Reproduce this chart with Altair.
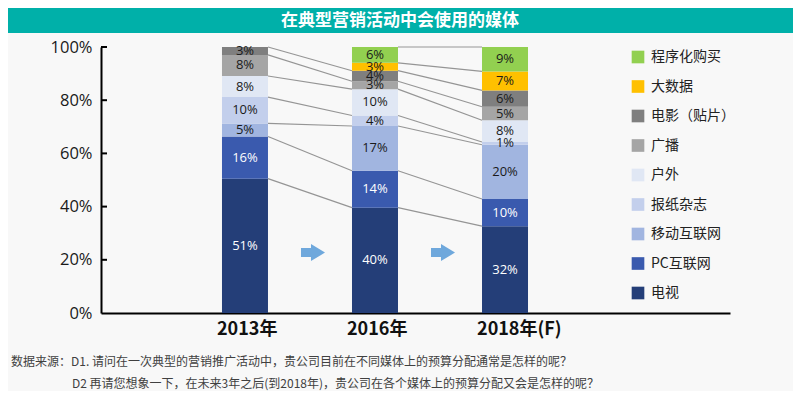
import altair as alt
import pandas as pd

# ---------------- data ----------------
years = ["2013年", "2016年", "2018年(F)"]
categories = ["电视", "PC互联网", "移动互联网", "报纸杂志", "户外", "广播", "电影（贴片）", "大数据", "程序化购买"]
values_2013 = [51, 16, 5, 10, 8, 8, 3, 0, 0]
values_2016 = [40, 14, 17, 4, 10, 3, 4, 3, 6]
values_2018 = [32, 10, 20, 1, 8, 5, 6, 7, 9]
colors = ["#243e78", "#3a5aae", "#a1b5e0", "#c3cfec", "#e0e7f4", "#a5a5a5", "#7f7f7f", "#ffc000", "#92d050"]
label_colors = ["white", "white", "#1a1a1a", "#1a1a1a", "#1a1a1a", "#1a1a1a", "#1a1a1a", "#1a1a1a", "#1a1a1a"]
y_ticks = [0, 0.2, 0.4, 0.6, 0.8, 1.0]
arrow_from = ["2013年", "2016年"]
title_text = "在典型营销活动中会使用的媒体"
footnotes = [
    "数据来源：D1. 请问在一次典型的营销推广活动中，贵公司目前在不同媒体上的预算分配通常是怎样的呢？",
    "D2 再请您想象一下，在未来3年之后(到2018年)，贵公司在各个媒体上的预算分配又会是怎样的呢？",
]

# ---------------- tables ----------------
all_values = [values_2013, values_2016, values_2018]
rows = []
tops = {}
for yr, vals in zip(years, all_values):
    total = sum(vals)
    cum = 0
    for ci, (cat, v) in enumerate(zip(categories, vals)):
        y0 = cum / total
        cum += v
        y1 = cum / total
        tops[(yr, cat)] = y1
        rows.append(dict(year=yr, cat=cat, value=v, y0=y0, y1=y1, mid=(y0 + y1) / 2,
                         label=f"{v}%", tc=label_colors[ci]))
seg = pd.DataFrame(rows)
seg = seg[seg["value"] > 0]

line_rows = []
for i in range(len(years) - 1):
    for cat, v in zip(categories, all_values[i]):
        if v > 0:
            line_rows.append(dict(frm=years[i], to=years[i + 1],
                                  ya=tops[(years[i], cat)], yb=tops[(years[i + 1], cat)]))
lines_df = pd.DataFrame(line_rows)

# ---------------- scales ----------------
xs = alt.Scale(domain=years, paddingInner=0, paddingOuter=0.919, align=0.3305)
ys = alt.Scale(domain=[0, 1], nice=False)
cs = alt.Scale(domain=categories[::-1], range=colors[::-1])

x_axis = alt.Axis(title=None, ticks=False, domainColor="black", domainWidth=2,
                  labelFontSize=18, labelFontWeight="bold", labelFont="Noto Sans CJK SC",
                  labelAlign="left", labelOffset=-28, labelPadding=7, labelColor="#111111",
                  labelAngle=0)
y_axis = alt.Axis(title=None, values=y_ticks, format=".0%", ticks=False, grid=False,
                  domainColor="black", domainWidth=2, labelFontSize=16.5,
                  labelFont="Open Sans", labelColor="#1a1a1a", labelPadding=9)

BAR_W = 46

# ---------------- layers ----------------
banner = alt.Chart(pd.DataFrame({"t": [title_text]})).mark_rect(color="#00b0a9").encode(
    x=alt.value(-93), x2=alt.value(692), y=alt.value(-39), y2=alt.value(-14))
title = alt.Chart(pd.DataFrame({"t": [title_text]})).mark_text(
    fontSize=17, fontWeight="bold", color="white", font="Noto Sans CJK SC").encode(
    text="t:N", x=alt.value(299), y=alt.value(-26))

connectors = alt.Chart(lines_df).mark_rule(color="#959595", strokeWidth=1.2).encode(
    x=alt.X("frm:N", scale=xs, bandPosition=0.677, axis=x_axis),
    x2=alt.X2("to:N", bandPosition=0.323),
    y=alt.Y("ya:Q", scale=ys, axis=y_axis),
    y2="yb:Q")

bars = alt.Chart(seg).mark_bar(width=BAR_W).encode(
    x=alt.X("year:N", scale=xs, axis=x_axis, sort=years),
    y=alt.Y("y0:Q", scale=ys, axis=y_axis),
    y2="y1:Q",
    color=alt.Color("cat:N", scale=cs, legend=alt.Legend(
        title=None, orient="none", legendX=530, legendY=3, symbolType="square",
        symbolSize=160, symbolStrokeWidth=0, labelFontSize=14, labelFont="Noto Sans CJK SC",
        labelColor="#222222", rowPadding=15.5, labelOffset=6, padding=0)))

texts = alt.Chart(seg).mark_text(fontSize=13, font="Open Sans").encode(
    x=alt.X("year:N", scale=xs, sort=years),
    y=alt.Y("mid:Q", scale=ys),
    text="label:N",
    color=alt.Color("tc:N", scale=None))

arrow_path = "M-0.75,-0.375L0.083,-0.375L0.083,-0.708L1.25,0L0.083,0.708L0.083,0.375L-0.75,0.375Z"
arrows = alt.Chart(pd.DataFrame({"frm": arrow_from})).mark_point(
    shape=arrow_path, size=576, filled=True, color="#6fa8dc", opacity=1, strokeWidth=0).encode(
    x=alt.X("frm:N", scale=xs, bandPosition=1),
    y=alt.Y(datum=0.227, scale=ys))

ticks = alt.Chart(pd.DataFrame({"v": y_ticks[1:]})).mark_rule(color="black", strokeWidth=2).encode(
    y=alt.Y("v:Q", scale=ys), x=alt.value(0), x2=alt.value(6))

foot1 = alt.Chart(pd.DataFrame({"t": [footnotes[0]]})).mark_text(
    align="left", fontSize=12, color="#404040", font="Noto Sans CJK SC").encode(
    text="t:N", x=alt.value(-90), y=alt.value(315))
foot2 = alt.Chart(pd.DataFrame({"t": [footnotes[1]]})).mark_text(
    align="left", fontSize=12, color="#404040", font="Noto Sans CJK SC").encode(
    text="t:N", x=alt.value(-29), y=alt.value(337))

chart = alt.layer(banner, title, connectors, bars, texts, arrows, ticks, foot1, foot2).properties(
    width=629, height=266, autosize="none",
    padding={"left": 93, "top": 39, "right": 63, "bottom": 78},
    background="#f8f8f8",
).configure_view(stroke=None)

chart.save("out.html", embed_options={"renderer": "svg", "actions": False})
